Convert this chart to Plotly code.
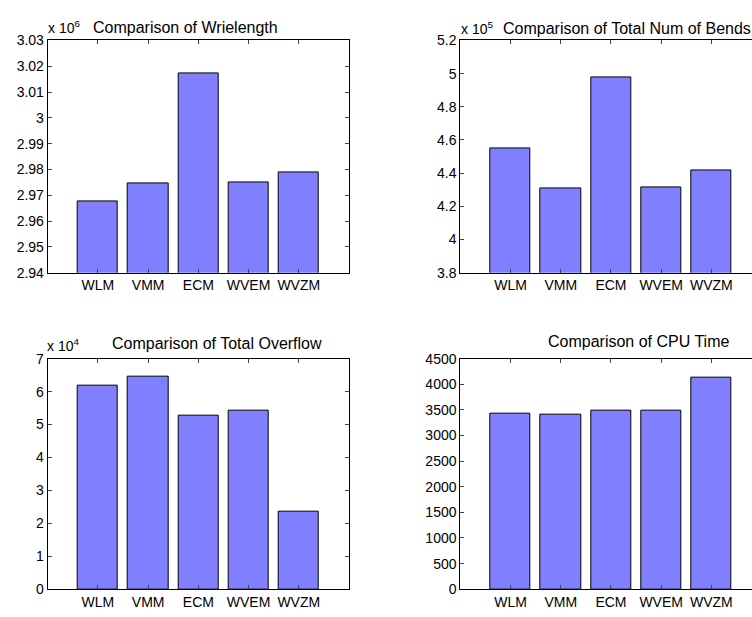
import plotly.graph_objects as go

# ---- data ----
methods = ["WLM", "VMM", "ECM", "WVEM", "WVZM"]
wirelength = [2967600, 2974500, 3017400, 2975100, 2978900]
bends = [454600, 430500, 497900, 431300, 441700]
overflow = [61800, 64400, 52700, 54100, 23700]
cpu_time = [3422, 3410, 3479, 3486, 4139]

wl_tickvals = [2.94e6, 2.95e6, 2.96e6, 2.97e6, 2.98e6, 2.99e6, 3.00e6, 3.01e6, 3.02e6, 3.03e6]
wl_ticktext = ["2.94", "2.95", "2.96", "2.97", "2.98", "2.99", "3", "3.01", "3.02", "3.03"]
bd_tickvals = [3.8e5, 4.0e5, 4.2e5, 4.4e5, 4.6e5, 4.8e5, 5.0e5, 5.2e5]
bd_ticktext = ["3.8", "4", "4.2", "4.4", "4.6", "4.8", "5", "5.2"]
of_tickvals = [0, 1e4, 2e4, 3e4, 4e4, 5e4, 6e4, 7e4]
of_ticktext = ["0", "1", "2", "3", "4", "5", "6", "7"]
cpu_tickvals = [0, 500, 1000, 1500, 2000, 2500, 3000, 3500, 4000, 4500]
cpu_ticktext = [str(v) for v in cpu_tickvals]

titles = ["Comparison of Wrielength", "Comparison of Total Num of Bends",
          "Comparison of Total Overflow", "Comparison of CPU Time"]

W, H = 752, 617
FONT = "Liberation Sans, Arial, Helvetica, sans-serif"
BAR = "#8080FF"

def px(x):
    return x / W

def py(y):
    return 1 - y / H

xs = list(range(1, len(methods) + 1))

fig = go.Figure()

panels = [
    (wirelength, "", (47.7, 349.0), (33.3, 271.7), [0, 6], [2.94e6, 3.03e6], wl_tickvals, wl_ticktext, "ticks"),
    (bends, "2", (460.3, 752.0), (33.3, 271.7), [0, 5.809], [3.8e5, 5.2e5], bd_tickvals, bd_ticktext, False),
    (overflow, "3", (47.7, 349.0), (360.0, 596.7), [0, 6], [0, 7e4], of_tickvals, of_ticktext, "ticks"),
    (cpu_time, "4", (460.3, 752.0), (360.0, 596.7), [0, 5.809], [0, 4500], cpu_tickvals, cpu_ticktext, False),
]

layout_axes = {}
for vals, s, (x0, x1), (y0, y1), xr, yr, tv, tt, my in panels:
    fig.add_trace(go.Bar(
        x=xs, y=vals, width=0.8,
        marker=dict(color=BAR, line=dict(color="black", width=1)),
        xaxis="x" + s, yaxis="y" + s, showlegend=False,
    ))
    layout_axes["xaxis" + s] = dict(
        domain=[px(x0), px(x1)], range=xr, anchor="y" + s,
        tickvals=xs, ticktext=methods, ticks="inside", ticklen=4,
        showline=True, linecolor="black", linewidth=1, mirror="ticks",
        showgrid=False, zeroline=False, fixedrange=True,
        tickfont=dict(family=FONT, size=14, color="black"),
    )
    layout_axes["yaxis" + s] = dict(
        domain=[py(y1), py(y0)], range=yr, anchor="x" + s,
        tickvals=tv, ticktext=tt, ticks="inside", ticklen=4,
        showline=True, linecolor="black", linewidth=1, mirror=my,
        showgrid=False, zeroline=False, fixedrange=True,
        tickfont=dict(family=FONT, size=14, color="black"),
    )

fig.update_layout(**layout_axes)

annotations = []
title_pos = [(185, 20), (626.5, 21), (216.7, 344), (638.5, 342)]
for t, (cx, cy) in zip(titles, title_pos):
    annotations.append(dict(
        text=t, x=px(cx), y=py(cy), xref="paper", yref="paper",
        xanchor="center", yanchor="middle", showarrow=False,
        font=dict(family=FONT, size=16, color="black"),
    ))

exps = [("x 10<sup>6</sup>", 46, 20), ("x 10<sup>5</sup>", 459, 21), ("x 10<sup>4</sup>", 45, 346)]
for t, lx, cy in exps:
    annotations.append(dict(
        text=t, x=px(lx), y=py(cy), xref="paper", yref="paper",
        xanchor="left", yanchor="middle", showarrow=False,
        font=dict(family=FONT, size=14, color="black"),
    ))

fig.update_layout(
    width=W, height=H, autosize=False,
    margin=dict(l=0, r=0, t=0, b=0),
    paper_bgcolor="white", plot_bgcolor="white",
    annotations=annotations, bargap=0,
)

fig.write_html(
    "out.html",
    config={"displayModeBar": False},
    post_script="document.body.style.margin='0';document.body.style.overflow='hidden';",
)
